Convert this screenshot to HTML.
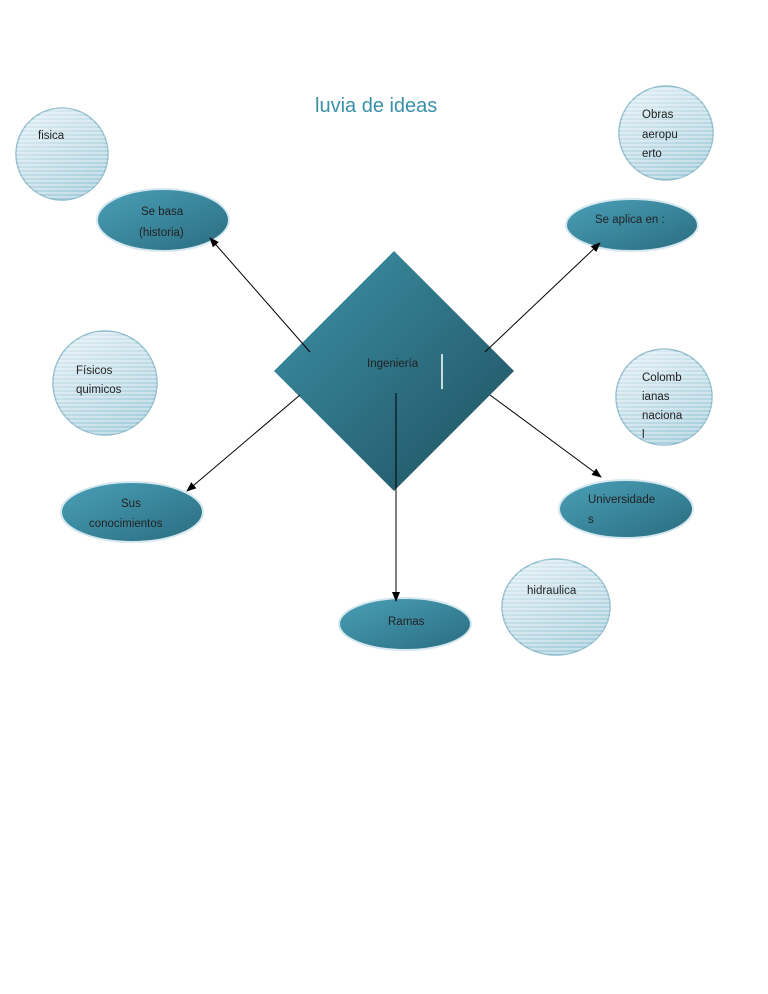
<!DOCTYPE html>
<html><head><meta charset="utf-8"><style>
html,body{margin:0;padding:0;background:#fff;}
svg{display:block;}
text{font-family:"Liberation Sans",sans-serif;font-size:11.5px;fill:#222;}
</style></head><body>
<svg width="768" height="994" viewBox="0 0 768 994" xmlns="http://www.w3.org/2000/svg">
<defs>
<linearGradient id="lt" x1="0" y1="0" x2="0.6" y2="1">
<stop offset="0" stop-color="#e4f0f5"/><stop offset="1" stop-color="#a9cfdd"/></linearGradient>
<pattern id="stripes" width="4" height="4" patternUnits="userSpaceOnUse">
<rect width="4" height="2" fill="#ffffff" opacity="0.35"/></pattern>
<linearGradient id="dk" x1="0" y1="0" x2="1" y2="1">
<stop offset="0" stop-color="#4aa0b8"/><stop offset="1" stop-color="#2a6c80"/></linearGradient>
<linearGradient id="dia" x1="0" y1="0" x2="1" y2="1">
<stop offset="0" stop-color="#3f93a9"/><stop offset="1" stop-color="#1d4f5e"/></linearGradient>
<marker id="ar" markerWidth="10" markerHeight="8" refX="9" refY="4" orient="auto" markerUnits="userSpaceOnUse">
<path d="M0,0 L10,4 L0,8 z" fill="#000"/></marker>
</defs>
<text x="315" y="112" style="font-size:20px;fill:#3a8fa8">luvia de ideas</text>

<g stroke="#8fbccc" stroke-width="1.5">
<circle cx="62" cy="154" r="46" fill="url(#lt)"/>
<circle cx="666" cy="133" r="47" fill="url(#lt)"/>
<circle cx="105" cy="383" r="52" fill="url(#lt)"/>
<circle cx="664" cy="397" r="48" fill="url(#lt)"/>
<ellipse cx="556" cy="607" rx="54" ry="48" fill="url(#lt)"/>
</g>
<g fill="url(#stripes)">
<circle cx="62" cy="154" r="46"/><circle cx="666" cy="133" r="47"/>
<circle cx="105" cy="383" r="52"/><circle cx="664" cy="397" r="48"/>
<ellipse cx="556" cy="607" rx="54" ry="48"/>
</g>

<g fill="url(#dk)" stroke="#d6e8ef" stroke-width="2">
<ellipse cx="163" cy="220" rx="66" ry="31"/>
<ellipse cx="632" cy="225" rx="66" ry="26"/>
<ellipse cx="132" cy="512" rx="71" ry="30"/>
<ellipse cx="626" cy="509" rx="67" ry="29"/>
<ellipse cx="405" cy="624" rx="66" ry="26"/>
</g>

<polygon points="394,251 514,371 394,491 274,371" fill="url(#dia)"/>
<line x1="442" y1="354" x2="442" y2="389" stroke="#fff" stroke-width="1.5"/>

<g stroke="#000" stroke-width="1" marker-end="url(#ar)">
<line x1="310" y1="352" x2="210" y2="238"/>
<line x1="485" y1="352" x2="600" y2="243"/>
<line x1="300" y1="395" x2="187" y2="491"/>
<line x1="490" y1="395" x2="601" y2="477"/>
<line x1="396" y1="393" x2="396" y2="601"/>
</g>

<text x="38" y="139">fisica</text>
<text x="642" y="118">Obras</text><text x="642" y="138">aeropu</text><text x="642" y="157">erto</text>
<text x="141" y="215">Se basa</text><text x="139" y="236">(historia)</text>
<text x="595" y="223">Se aplica en :</text>
<text x="367" y="367">Ingeniería</text>
<text x="76" y="374">Físicos</text><text x="76" y="393">quimicos</text>
<text x="642" y="381">Colomb</text><text x="642" y="400">ianas</text><text x="642" y="419">naciona</text><text x="642" y="438">l</text>
<text x="121" y="507">Sus</text><text x="89" y="527">conocimientos</text>
<text x="588" y="503">Universidade</text><text x="588" y="523">s</text>
<text x="527" y="594">hidraulica</text>
<text x="388" y="625">Ramas</text>
</svg>
</body></html>
